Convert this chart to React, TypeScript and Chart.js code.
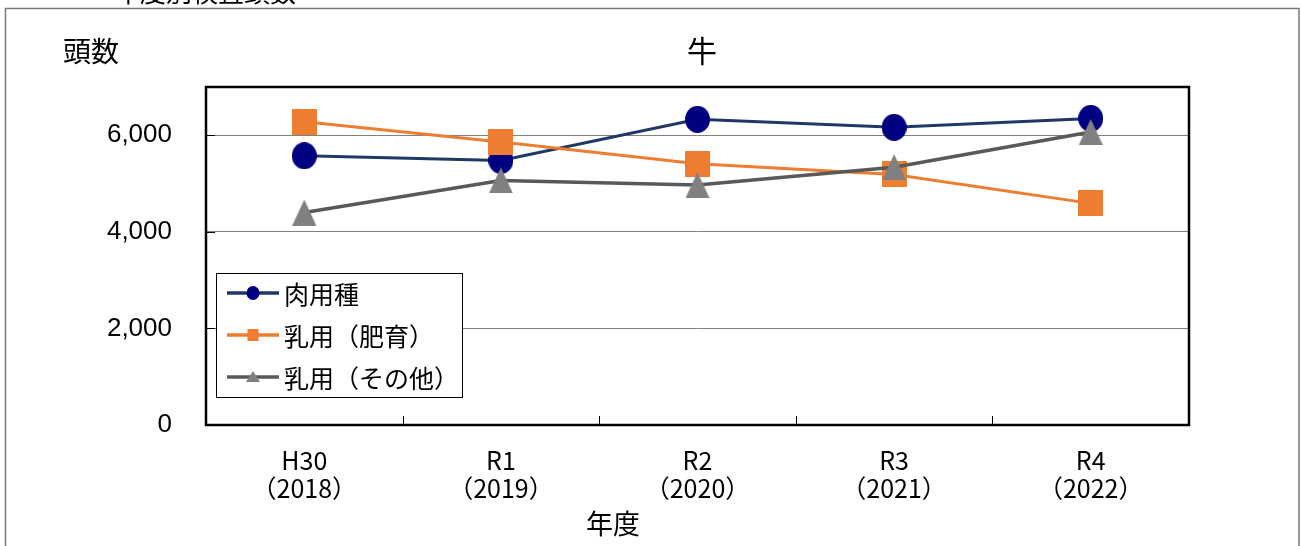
import React, { useEffect, useRef } from "react";
import { Chart, registerables } from "chart.js";

Chart.register(...registerables);

const categories: string[][] = [
  ["H30", "（2018）"],
  ["R1", "（2019）"],
  ["R2", "（2020）"],
  ["R3", "（2021）"],
  ["R4", "（2022）"],
];
const beef = [5575, 5480, 6330, 6165, 6350];
const dairyFattening = [6280, 5860, 5410, 5190, 4590];
const dairyOther = [4400, 5065, 4970, 5340, 6070];
const yTickValues = [0, 2000, 4000, 6000];
const seriesNames = ["肉用種", "乳用（肥育）", "乳用（その他）"];
const chartTitle = "牛";
const yTitle = "頭数";
const xTitle = "年度";
const pageHeading = "年度別検査頭数";

const JP = '"Noto Sans CJK JP", "Noto Sans", sans-serif';
const LAT = '"Liberation Sans", Arial, sans-serif';

const NAVY_LINE = "#1F3864";
const NAVY = "#000080";
const ORANGE = "#ED7D31";
const GRAY_LINE = "#595959";
const GRAY = "#808080";

function makeShape(kind: "circle" | "square" | "triangle", w: number, h: number, color: string) {
  const c = document.createElement("canvas");
  c.width = w;
  c.height = h;
  const g = c.getContext("2d")!;
  g.fillStyle = color;
  g.beginPath();
  if (kind === "circle") {
    g.ellipse(w / 2, h / 2, w / 2, h / 2, 0, 0, Math.PI * 2);
  } else if (kind === "square") {
    g.rect(0, 0, w, h);
  } else {
    g.moveTo(w / 2, 0);
    g.lineTo(w, h);
    g.lineTo(0, h);
    g.closePath();
  }
  g.fill();
  return c;
}

function drawLegendMarker(ctx: CanvasRenderingContext2D, kind: string, x: number, y: number, color: string) {
  ctx.fillStyle = color;
  ctx.beginPath();
  if (kind === "circle") {
    ctx.ellipse(x, y, 6.5, 7, 0, 0, Math.PI * 2);
  } else if (kind === "square") {
    ctx.rect(x - 5.5, y - 6, 11, 12);
  } else {
    ctx.moveTo(x, y - 6);
    ctx.lineTo(x + 7, y + 5);
    ctx.lineTo(x - 7, y + 5);
    ctx.closePath();
  }
  ctx.fill();
}

export default function App() {
  const ref = useRef<HTMLCanvasElement | null>(null);

  useEffect(() => {
    const canvas = ref.current;
    if (!canvas) return;

    const circle = makeShape("circle", 25, 27, NAVY);
    const square = makeShape("square", 25, 26, ORANGE);
    const triangle = makeShape("triangle", 24, 26, GRAY);

    const legendItems = [
      { name: seriesNames[0], line: NAVY_LINE, marker: "circle", color: NAVY },
      { name: seriesNames[1], line: ORANGE, marker: "square", color: ORANGE },
      { name: seriesNames[2], line: GRAY_LINE, marker: "triangle", color: GRAY },
    ];

    const decor = {
      id: "decor",
      beforeDraw(chart: any) {
        const ctx = chart.ctx as CanvasRenderingContext2D;
        ctx.save();
        ctx.fillStyle = "#ffffff";
        ctx.fillRect(0, 0, chart.width, chart.height);
        ctx.strokeStyle = "#7a7a7a";
        ctx.lineWidth = 1.5;
        ctx.strokeRect(5.5, 8.5, 1293.5, 600);
        ctx.fillStyle = "#000";
        ctx.font = `26px ${JP}`;
        ctx.textAlign = "left";
        ctx.textBaseline = "alphabetic";
        ctx.fillText(pageHeading, 114, 2);
        ctx.restore();
      },
      beforeDatasetsDraw(chart: any) {
        const ctx = chart.ctx as CanvasRenderingContext2D;
        const a = chart.chartArea;
        const xs = chart.scales.x;
        const ys = chart.scales.y;
        ctx.save();
        ctx.strokeStyle = "#000";
        ctx.lineWidth = 1;
        for (let i = 0; i < categories.length - 1; i++) {
          const px = Math.round((xs.getPixelForValue(i) + xs.getPixelForValue(i + 1)) / 2) + 0.5;
          ctx.beginPath();
          ctx.moveTo(px, a.bottom);
          ctx.lineTo(px, a.bottom - 9);
          ctx.stroke();
        }
        for (const v of yTickValues) {
          const py = Math.round(ys.getPixelForValue(v)) + 0.5;
          ctx.beginPath();
          ctx.moveTo(a.left, py);
          ctx.lineTo(a.left + 9, py);
          ctx.stroke();
        }
        ctx.lineWidth = 2.5;
        ctx.strokeRect(a.left, a.top, a.right - a.left, a.bottom - a.top);
        ctx.restore();
      },
      afterDraw(chart: any) {
        const ctx = chart.ctx as CanvasRenderingContext2D;
        ctx.save();
        ctx.fillStyle = "#000";
        ctx.textBaseline = "middle";
        ctx.textAlign = "center";
        ctx.font = `30px ${JP}`;
        ctx.fillText(chartTitle, 702, 51);
        ctx.font = `28px ${JP}`;
        ctx.fillText(yTitle, 91, 51);
        ctx.font = `27px ${JP}`;
        ctx.fillText(xTitle, 613, 524);

        const bx = 216.5, by = 273.5, bw = 246, bh = 124;
        ctx.fillStyle = "#ffffff";
        ctx.fillRect(bx, by, bw, bh);
        ctx.strokeStyle = "#000";
        ctx.lineWidth = 1;
        ctx.strokeRect(bx, by, bw, bh);
        const rows = [293, 335, 377];
        legendItems.forEach((it, i) => {
          const y = rows[i];
          ctx.strokeStyle = it.line;
          ctx.lineWidth = 3.5;
          ctx.beginPath();
          ctx.moveTo(227, y);
          ctx.lineTo(279, y);
          ctx.stroke();
          drawLegendMarker(ctx, it.marker, 253, y, it.color);
          ctx.fillStyle = "#000";
          ctx.font = `25px ${JP}`;
          ctx.textAlign = "left";
          ctx.textBaseline = "middle";
          ctx.fillText(it.name, 284, y + 1);
        });
        ctx.restore();
      },
    };

    const chart = new Chart(canvas, {
      type: "line",
      data: {
        labels: categories,
        datasets: [
          {
            label: seriesNames[0],
            data: beef,
            borderColor: NAVY_LINE,
            backgroundColor: NAVY,
            borderWidth: 3,
            pointStyle: circle as any,
            pointRadius: 13,
            order: 3,
          },
          {
            label: seriesNames[1],
            data: dairyFattening,
            borderColor: ORANGE,
            backgroundColor: ORANGE,
            borderWidth: 3,
            pointStyle: square as any,
            pointRadius: 13,
            order: 2,
          },
          {
            label: seriesNames[2],
            data: dairyOther,
            borderColor: GRAY_LINE,
            backgroundColor: GRAY,
            borderWidth: 3.5,
            pointStyle: triangle as any,
            pointRadius: 13,
            order: 1,
          },
        ],
      },
      options: {
        responsive: false,
        animation: false,
        events: [],
        layout: { padding: { top: 87, right: 112, bottom: 0, left: 0 } },
        plugins: {
          legend: { display: false },
          title: { display: false },
          tooltip: { enabled: false },
        },
        scales: {
          x: {
            type: "category",
            offset: true,
            grid: { display: false, drawTicks: false },
            border: { display: false },
            ticks: {
              color: "#000",
              font: { family: JP, size: 25, lineHeight: 1.12 },
              padding: 21,
              maxRotation: 0,
              autoSkip: false,
            },
            afterFit: (s: any) => {
              s.height = 121;
            },
          },
          y: {
            min: 0,
            max: 7000,
            grid: { color: GRAY, lineWidth: 1, drawTicks: false },
            border: { display: false },
            ticks: {
              color: "#000",
              font: { family: LAT, size: 26 },
              padding: 34,
              callback: (v: any) => Number(v).toLocaleString("en-US"),
            },
            afterBuildTicks: (s: any) => {
              s.ticks = yTickValues.map((v) => ({ value: v }));
            },
            afterFit: (s: any) => {
              s.width = 206;
            },
          },
        },
      },
      plugins: [decor],
    });

    let alive = true;
    if ((document as any).fonts) {
      Promise.all([
        (document as any).fonts.load(`26px "Noto Sans CJK JP"`),
        (document as any).fonts.load(`26px "Liberation Sans"`),
      ])
        .then(() => {
          if (alive) chart.update();
        })
        .catch(() => {});
    }

    return () => {
      alive = false;
      chart.destroy();
    };
  }, []);

  return (
    <div style={{ position: "fixed", left: 0, top: 0, width: 1301, height: 546, background: "#fff" }}>
      <canvas ref={ref} width={1301} height={546} style={{ width: 1301, height: 546, display: "block" }} />
    </div>
  );
}
